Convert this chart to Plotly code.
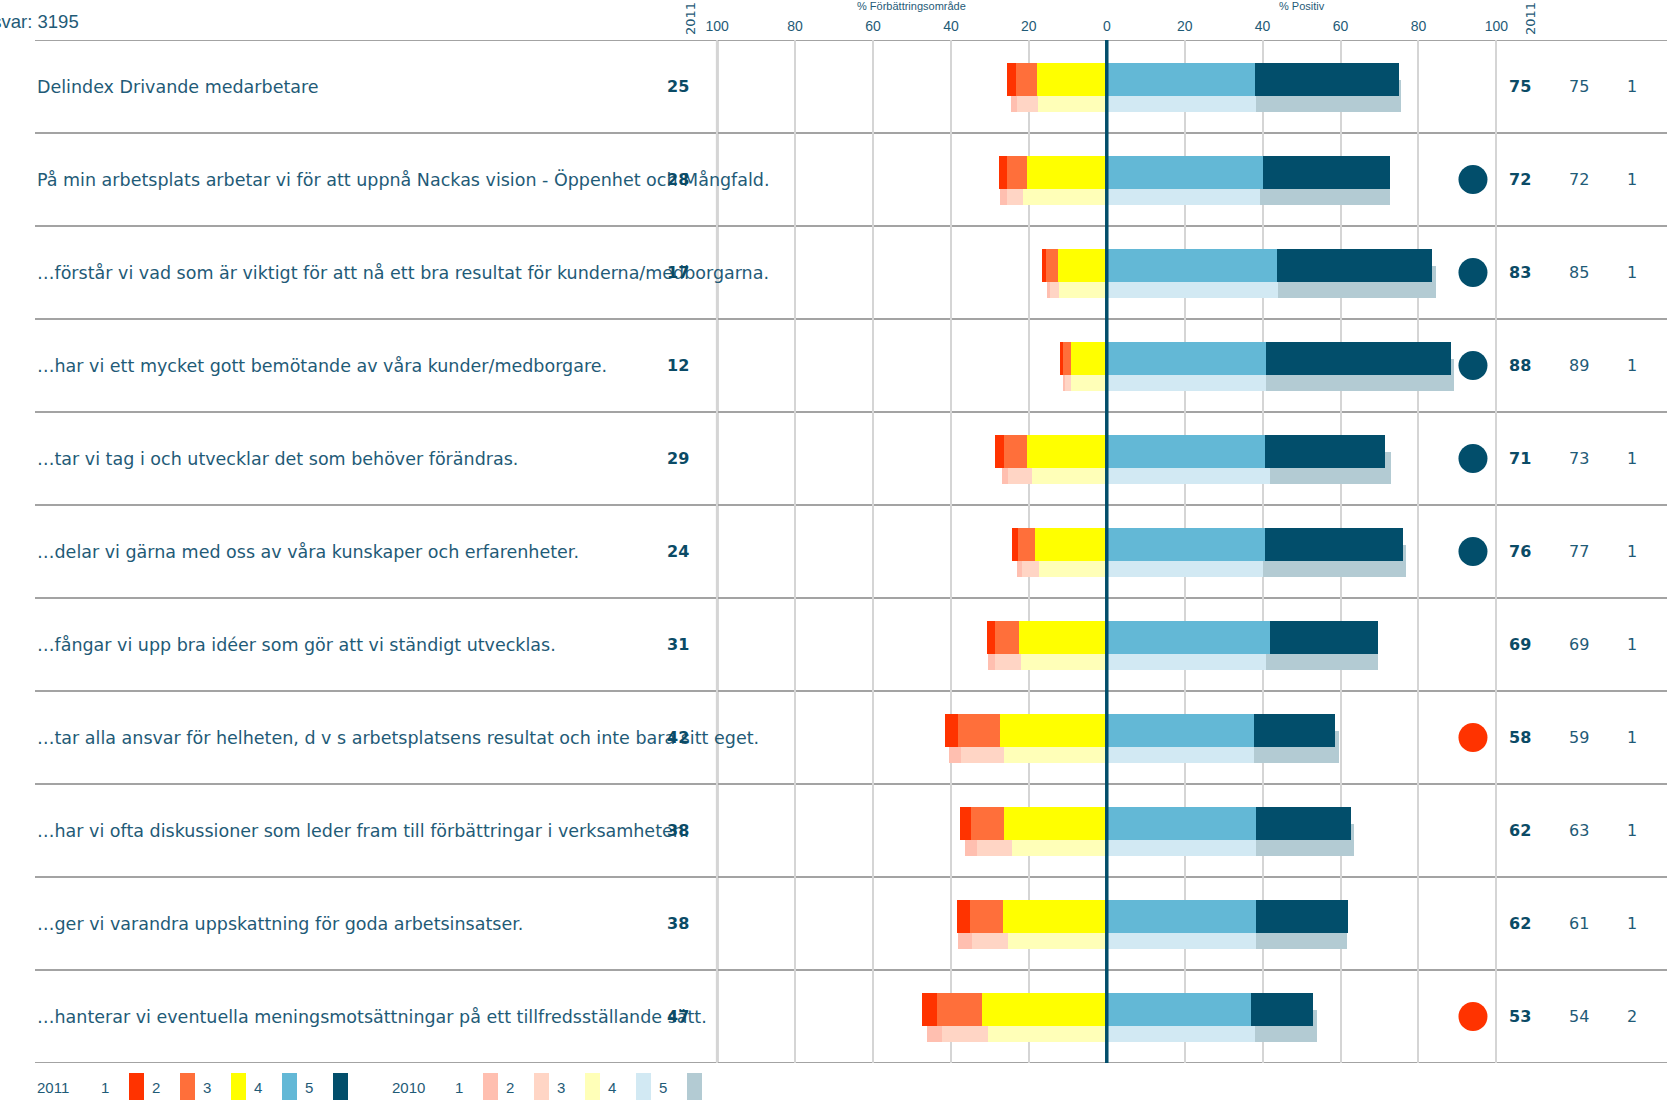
import plotly.graph_objects as go

# ---------------- data ----------------
labels = [
    "Delindex Drivande medarbetare",
    "På min arbetsplats arbetar vi för att uppnå Nackas vision - Öppenhet och Mångfald.",
    "…förstår vi vad som är viktigt för att nå ett bra resultat för kunderna/medborgarna.",
    "…har vi ett mycket gott bemötande av våra kunder/medborgare.",
    "…tar vi tag i och utvecklar det som behöver förändras.",
    "…delar vi gärna med oss av våra kunskaper och erfarenheter.",
    "…fångar vi upp bra idéer som gör att vi ständigt utvecklas.",
    "…tar alla ansvar för helheten, d v s arbetsplatsens resultat och inte bara sitt eget.",
    "…har vi ofta diskussioner som leder fram till förbättringar i verksamheten.",
    "…ger vi varandra uppskattning för goda arbetsinsatser.",
    "…hanterar vi eventuella meningsmotsättningar på ett tillfredsställande sätt.",
]

# 2011 shares per answer (1 = worst ... 5 = best)
s2011_1 = [2.1, 1.9, 1.1, 0.8, 2.3, 1.5, 2.1, 3.4, 2.8, 3.2, 3.9]
s2011_2 = [5.4, 5.1, 3.1, 2.0, 6.0, 4.4, 6.1, 10.8, 8.5, 8.5, 11.4]
s2011_3 = [18.0, 20.6, 12.5, 9.3, 20.5, 18.3, 22.5, 27.4, 26.3, 26.7, 32.1]
s2011_4 = [38.1, 40.2, 43.7, 40.9, 40.7, 40.7, 41.9, 37.9, 38.3, 38.2, 36.9]
s2011_5 = [36.8, 32.5, 39.7, 47.5, 30.8, 35.3, 27.6, 20.7, 24.4, 23.7, 16.0]

# 2010 shares
s2010_1 = [1.7, 1.7, 0.8, 0.6, 1.7, 1.3, 1.6, 3.1, 3.3, 3.6, 4.0]
s2010_2 = [5.4, 4.3, 2.3, 1.5, 6.2, 4.4, 6.7, 11.0, 9.0, 9.4, 11.8]
s2010_3 = [17.6, 21.4, 12.2, 9.1, 19.1, 17.3, 22.1, 26.5, 24.2, 25.3, 30.4]
s2010_4 = [38.3, 39.3, 43.9, 40.9, 41.9, 40.1, 40.9, 37.8, 38.3, 38.3, 38.1]
s2010_5 = [37.2, 33.3, 40.7, 48.1, 31.0, 36.8, 28.6, 21.8, 25.1, 23.3, 15.8]

neg_2011 = [25, 28, 17, 12, 29, 24, 31, 42, 38, 38, 47]
pos_2011 = [75, 72, 83, 88, 71, 76, 69, 58, 62, 62, 53]
pos_2010 = [75, 72, 85, 89, 73, 77, 69, 59, 63, 61, 54]
last_col = [1, 1, 1, 1, 1, 1, 1, 1, 1, 1, 2]
flags = ["", "up", "up", "up", "up", "up", "", "down", "", "", "down"]

tick_vals = [-100, -80, -60, -40, -20, 0, 20, 40, 60, 80, 100]

# ---------------- style ----------------
c2011 = ["#ff3300", "#ff6f3a", "#ffff00", "#63b8d6", "#024e6b"]
c2010 = ["#ffbfb0", "#ffd5c5", "#ffffb8", "#d2e9f3", "#b3cbd3"]
txt = "#1f5b77"
dark = "#0b4b66"
narrow = "Liberation Sans Narrow, Arial Narrow, Liberation Sans, sans-serif"
wide = "DejaVu Sans, Verdana, sans-serif"

W, H = 1670, 1103
ML, MR, MT, MB = 35, 3, 40, 40
PW, PH = W - ML - MR, H - MT - MB


def px_x(p):
    return (p - ML) / PW


def px_y(p):
    return (H - MB - p) / PH


n = len(labels)
rows = list(range(n))
y11 = [r - 0.075 for r in rows]
y10 = [r + 0.097 for r in rows]

fig = go.Figure()

# 2010 bars behind, 2011 on top
for yy, width, shares, cols, yr in [
    (y10, 0.344, [s2010_1, s2010_2, s2010_3, s2010_4, s2010_5], c2010, "2010"),
    (y11, 0.355, [s2011_1, s2011_2, s2011_3, s2011_4, s2011_5], c2011, "2011"),
]:
    order = [2, 1, 0, 3, 4]  # stack outward from zero
    for k in order:
        vals = shares[k]
        xs = [-v for v in vals] if k < 3 else vals
        fig.add_trace(go.Bar(
            x=xs, y=yy, orientation="h", width=width,
            marker=dict(color=cols[k], line=dict(width=0)),
            name=f"{yr} {k + 1}", showlegend=False,
            hovertemplate=f"{yr} svar {k + 1}: %{{customdata:.1f}}%<extra></extra>",
            customdata=vals,
        ))

# significance circles
fx = [94 for f in flags if f]
fy = [r for r, f in zip(rows, flags) if f]
fc = ["#024e6b" if f == "up" else "#ff3300" for f in flags if f]
fig.add_trace(go.Scatter(
    x=fx, y=fy, mode="markers", showlegend=False, hoverinfo="skip",
    marker=dict(size=29, color=fc, line=dict(width=0)),
))

shapes = []
# row separators
for k in range(n + 1):
    shapes.append(dict(type="line", xref="paper", yref="y", x0=0, x1=1,
                       y0=k - 0.5, y1=k - 0.5, layer="below",
                       line=dict(color="#a3a3a3", width=2)))
# -100 border line
shapes.append(dict(type="line", xref="x", yref="paper", x0=-100, x1=-100, y0=0, y1=1,
                   layer="below", line=dict(color="#a6a6a6", width=2.5)))
# zero line
shapes.append(dict(type="line", xref="x", yref="paper", x0=0, x1=0, y0=0, y1=1,
                   layer="above", line=dict(color="#024e6b", width=3.5)))

annotations = []
for r in rows:
    annotations.append(dict(xref="paper", yref="y", x=0, y=r, text=labels[r],
                            xanchor="left", yanchor="middle", showarrow=False,
                            font=dict(family=wide, size=17.5, color=txt)))
    annotations.append(dict(xref="paper", yref="y", x=px_x(691), y=r,
                            text=f"<b>{neg_2011[r]}</b>", xanchor="right", yanchor="middle",
                            showarrow=False, font=dict(family=wide, size=16, color=dark)))
    annotations.append(dict(xref="paper", yref="y", x=px_x(1520), y=r,
                            text=f"<b>{pos_2011[r]}</b>", xanchor="center", yanchor="middle",
                            showarrow=False, font=dict(family=wide, size=16, color=dark)))
    annotations.append(dict(xref="paper", yref="y", x=px_x(1579), y=r,
                            text=str(pos_2010[r]), xanchor="center", yanchor="middle",
                            showarrow=False, font=dict(family=wide, size=16, color=txt)))
    annotations.append(dict(xref="paper", yref="y", x=px_x(1632), y=r,
                            text=str(last_col[r]), xanchor="center", yanchor="middle",
                            showarrow=False, font=dict(family=wide, size=16, color=txt)))

# headers
for xp in [690, 1530]:
    annotations.append(dict(xref="paper", yref="paper", x=px_x(xp), y=px_y(19), text="2011",
                            textangle=-90, xanchor="center", yanchor="middle", showarrow=False,
                            font=dict(family=wide, size=13, color=txt)))
annotations.append(dict(xref="x", yref="paper", x=-50, y=px_y(6), text="% Förbättringsområde",
                        xanchor="center", yanchor="middle", showarrow=False,
                        font=dict(family=narrow, size=11, color=txt)))
annotations.append(dict(xref="x", yref="paper", x=50, y=px_y(6), text="% Positiv",
                        xanchor="center", yanchor="middle", showarrow=False,
                        font=dict(family=narrow, size=11, color=txt)))
annotations.append(dict(xref="paper", yref="paper", x=px_x(81), y=px_y(21), text="Antal svar: 3195",
                        xanchor="right", yanchor="middle", showarrow=False,
                        font=dict(family=narrow, size=18.5, color=txt)))

# legend row at the bottom
for yr, cols, x_lab, x_num in [("2011", c2011, 35, 105), ("2010", c2010, 390, 459)]:
    annotations.append(dict(xref="paper", yref="paper", x=px_x(x_lab), y=px_y(1087), text=yr,
                            xanchor="left", yanchor="middle", showarrow=False,
                            font=dict(family=narrow, size=15, color=txt)))
    for j, col in enumerate(cols):
        xn = x_num + 51 * j
        annotations.append(dict(xref="paper", yref="paper", x=px_x(xn), y=px_y(1087),
                                text=str(j + 1), xanchor="center", yanchor="middle",
                                showarrow=False, font=dict(family=narrow, size=15, color=txt)))
        shapes.append(dict(type="rect", xref="paper", yref="paper",
                           x0=px_x(xn + 24), x1=px_x(xn + 39), y0=px_y(1100), y1=px_y(1073),
                           fillcolor=col, line=dict(width=0)))

fig.update_layout(
    width=W, height=H,
    margin=dict(l=ML, r=MR, t=MT, b=MB),
    plot_bgcolor="white", paper_bgcolor="white",
    barmode="relative", bargap=0,
    shapes=shapes, annotations=annotations,
    xaxis=dict(range=[-275.1, 143.8], side="top", tickvals=tick_vals,
               ticktext=[str(abs(v)) for v in tick_vals], ticks="", ticklabelstandoff=5,
               showgrid=True, gridcolor="#d5d5d5", gridwidth=2, zeroline=False,
               showline=False, tickfont=dict(family=narrow, size=14, color=txt)),
    yaxis=dict(range=[n - 0.5, -0.5], showticklabels=False, showgrid=False,
               zeroline=False, showline=False),
)

# page body margin would shift the figure by 8px
fig.write_html("out.html", config={"displayModeBar": False},
               post_script="document.body.style.margin='0';")
